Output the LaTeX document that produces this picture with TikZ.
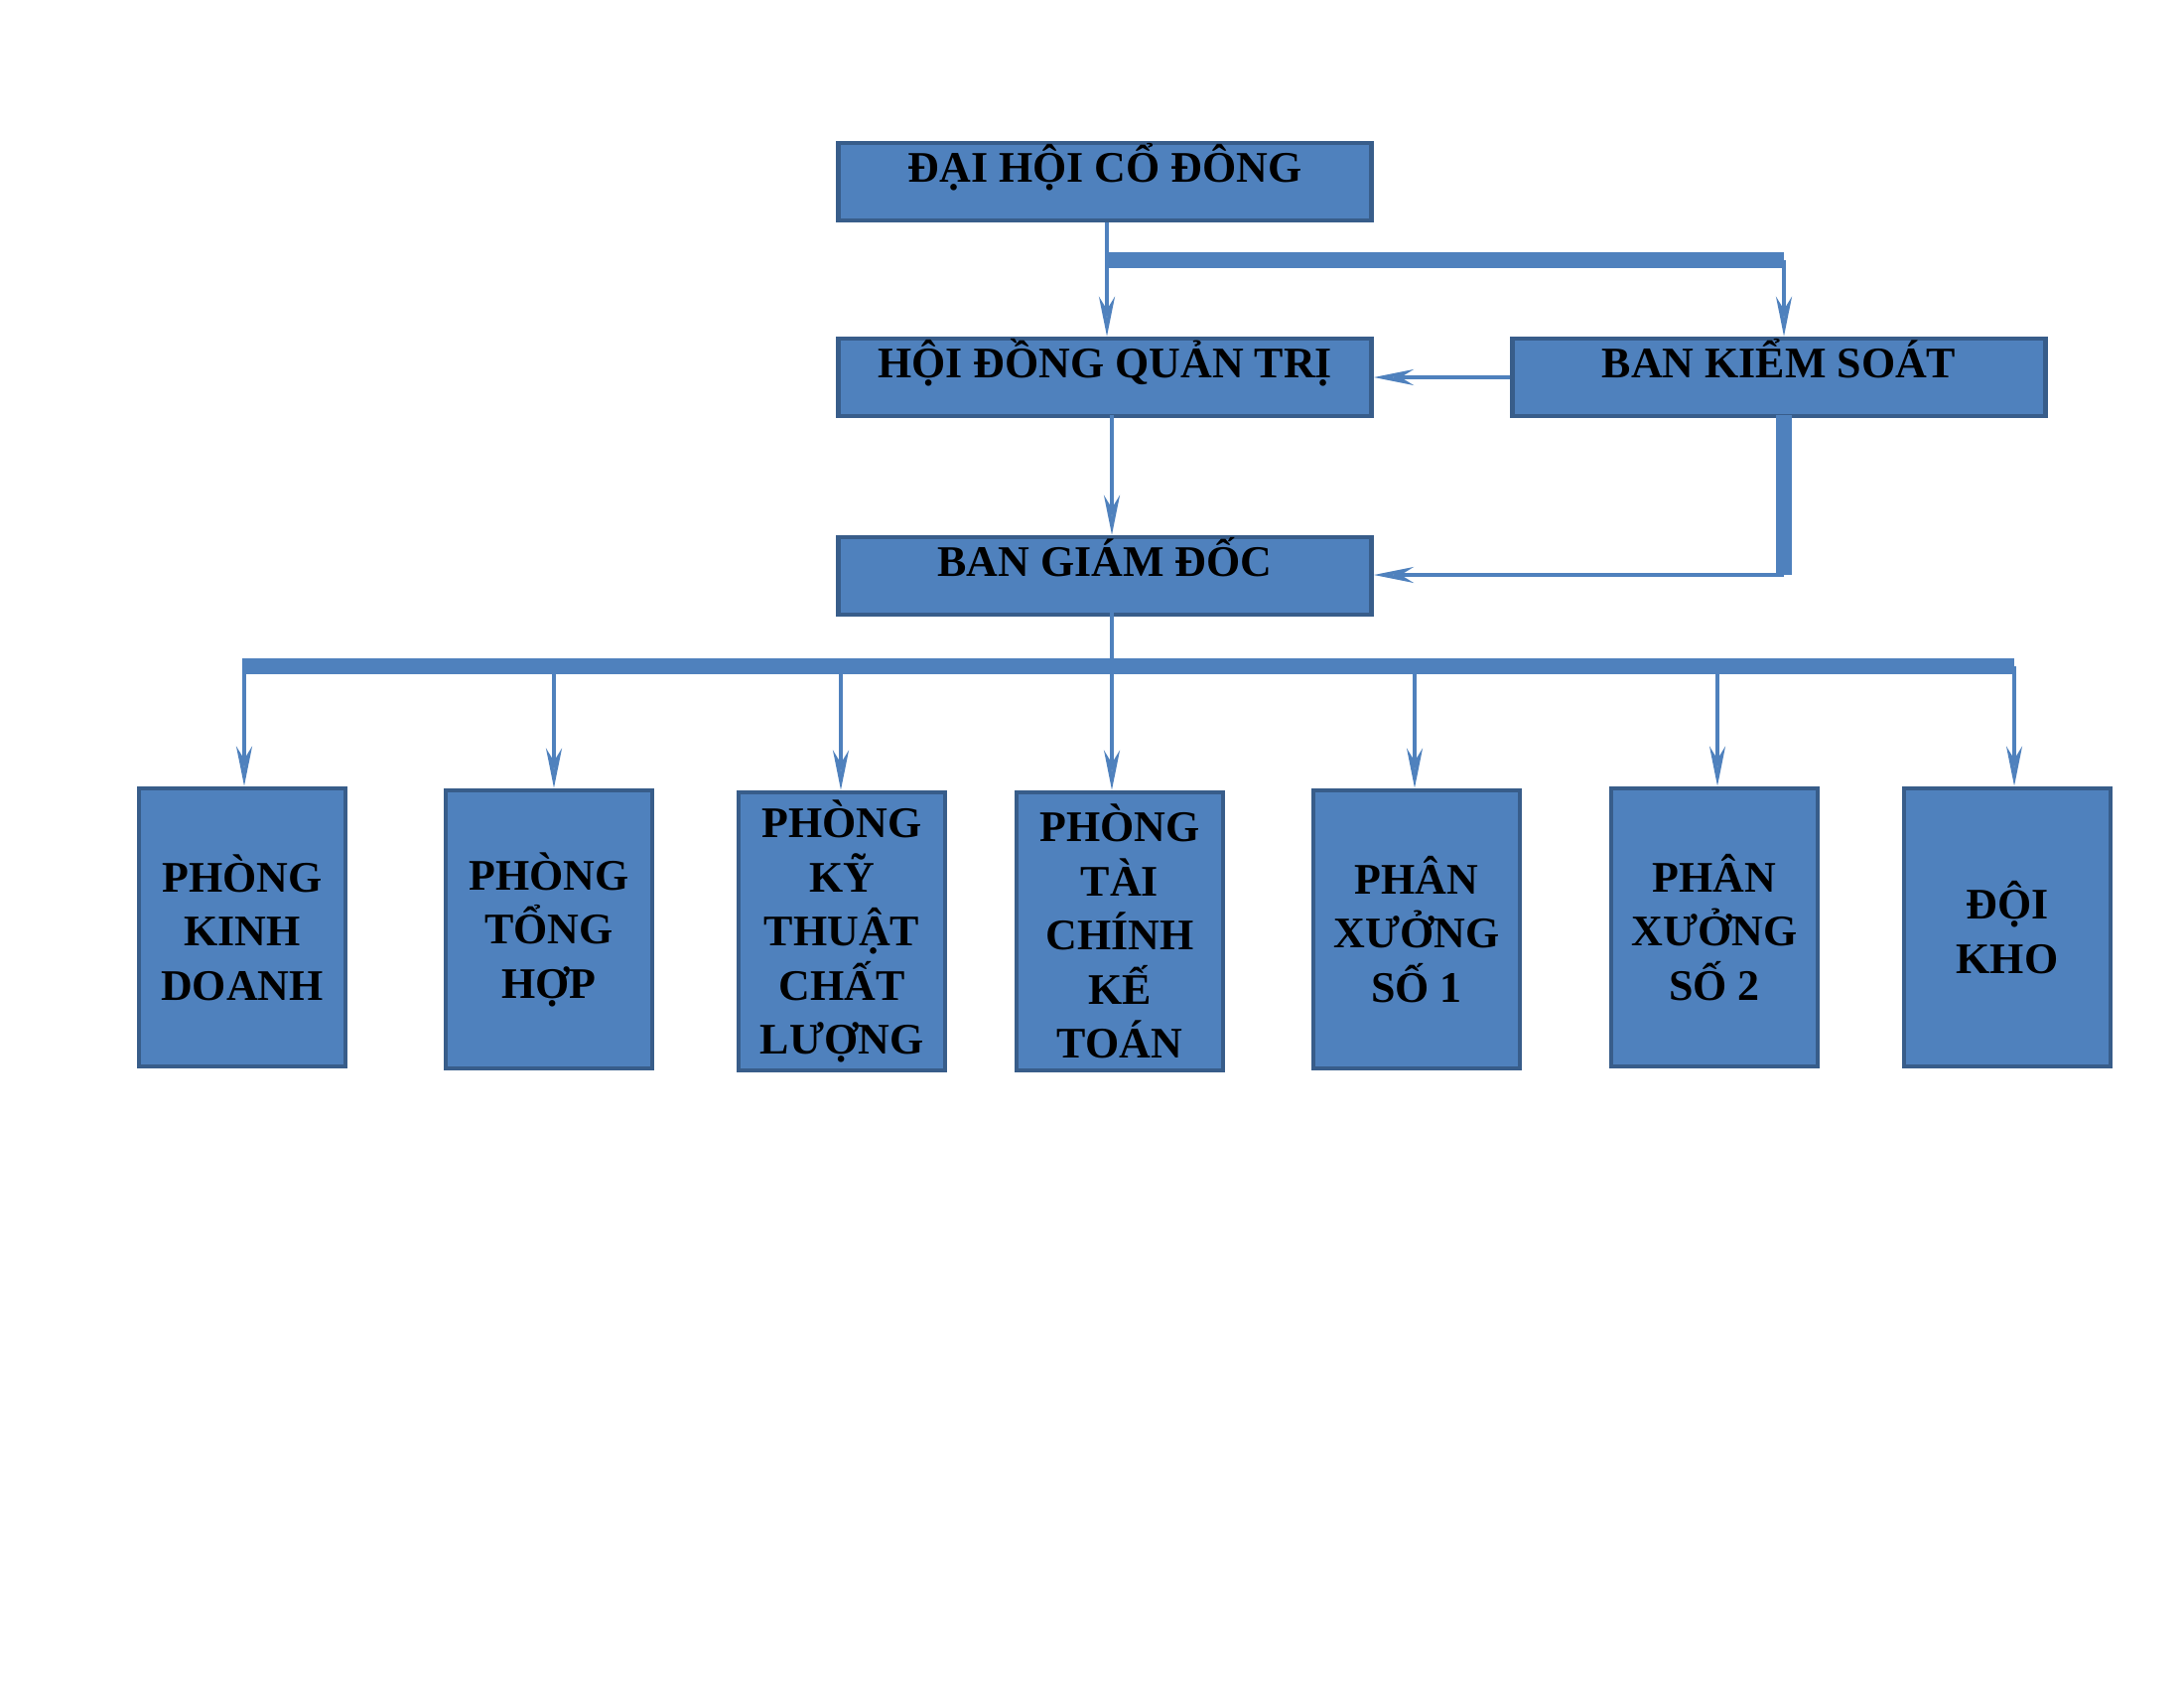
\documentclass[tikz,border=0pt]{standalone}
\usepackage{fontspec}
\setmainfont{Liberation Serif}
\usetikzlibrary{arrows.meta}
\definecolor{boxblue}{HTML}{4F81BD}
\definecolor{boxedge}{HTML}{385D8A}
\begin{document}
\begin{tikzpicture}
	[x=0.01cm, y=-0.01cm,
		block/.style		={rectangle
									, draw=boxedge
									, line width=1.3pt
									, fill=boxblue
									, font=\bfseries\fontsize{12.5}{15.5}\selectfont
									, align=center
									, inner sep=0pt
									},
		head/.style		 	={block
									, minimum width=5.37cm
									, minimum height=0.73cm
									, text depth=2.4ex
									},
		dept/.style		 	={block
									, minimum width=2.08cm
									, minimum height=2.8cm
									},
		line/.style		 	={draw=boxblue
									, line width=1pt
									, -{Stealth[length=4mm,width=1.6mm,open,fill=boxblue!60]}
									},
		bar/.style		 	={draw=boxblue
									, line width=4.5pt
									}
	]
\useasboundingbox (0,0) rectangle (2200,1700);
% top level
\node [head] (dhcd) at (1113,183) {ĐẠI HỘI CỔ ĐÔNG};
\node [head] (hdqt) at (1113,380) {HỘI ĐỒNG QUẢN TRỊ};
\node [head] (bks) at (1792,380) {BAN KIỂM SOÁT};
\node [head] (bgd) at (1113,580) {BAN GIÁM ĐỐC};
% departments
\node [dept] (kd) at (244,934) {PHÒNG\\KINH\\DOANH};
\node [dept] (th) at (553,936) {PHÒNG\\TỔNG\\HỢP};
\node [dept] (kt) at (848,938) {PHÒNG\\KỸ\\THUẬT\\CHẤT\\LƯỢNG};
\node [dept] (tc) at (1128,938) {PHÒNG\\TÀI\\CHÍNH\\KẾ\\TOÁN};
\node [dept] (px1) at (1427,936) {PHÂN\\XƯỞNG\\SỐ 1};
\node [dept] (px2) at (1727,934) {PHÂN\\XƯỞNG\\SỐ 2};
\node [dept] (dk) at (2022,934) {ĐỘI\\KHO};

\coordinate (split) at (1115,262);
\coordinate (splitR) at (1797,262);
\coordinate (bksdown) at (1797,418);
\coordinate (bksturn) at (1797,579);
\coordinate (busL) at (244,671);
\coordinate (busR) at (2029,671);
\begin{scope}[every path/.style=line]
	\path (dhcd.south -| split) -- (hdqt.north -| split);
	\path (splitR) -- (bks.north -| splitR);
	\path (bks.west) -- (hdqt.east);
	\path (1120,418) -- (bgd.north -| 1120,0);
	\path [-] (1120,617) -- (1120,671);
	\path (bksturn) -- (bgd.east |- bksturn);
	\foreach \dept/\xx in {kd/246, th/558, kt/847, tc/1120, px1/1425, px2/1730, dk/2029}
		\path (\xx,671) -- (\dept.north -| \xx,0);
\end{scope}
\path [bar] (split) -- (splitR);
\path [bar] (bksdown) -- (bksturn);
\path [bar] (busL) -- (busR);
\end{tikzpicture}
\end{document}
